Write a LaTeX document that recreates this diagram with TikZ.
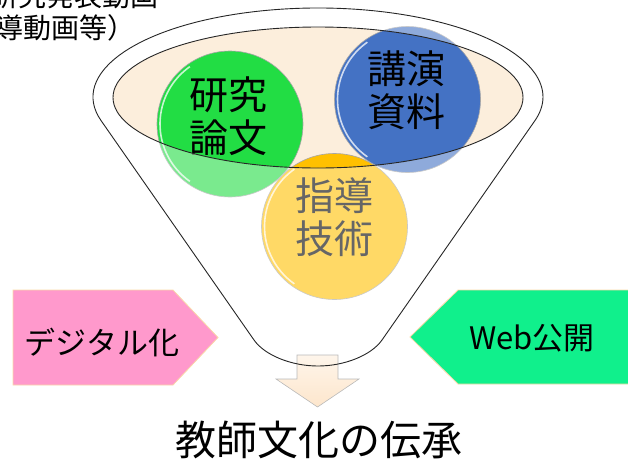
\documentclass[tikz,border=0pt]{standalone}
\usepackage{fontspec}
\setmainfont{Noto Sans CJK JP}
\definecolor{beige}{HTML}{FCEEDC}
\definecolor{cgreen}{HTML}{22DD44}
\definecolor{cblue}{HTML}{4472C4}
\definecolor{cyellow}{HTML}{FFC000}
\definecolor{cpink}{HTML}{FF99CC}
\definecolor{cmint}{HTML}{10F08C}
\definecolor{boxedge}{HTML}{F9D9A8}
\definecolor{arrowfill}{HTML}{FDE6CC}
\newcommand\funnelpath{(318,97) ++(164.5:225 and 89) arc[start angle=164.5, end angle=375.5, x radius=225, y radius=89] -- (382,340) .. controls (371.5,355) and (345,366) .. (318,366) .. controls (291,366) and (264.5,355) .. (254,340) -- cycle}
\tikzset{
  ball/.style={circle, draw=gray!70, line width=0.6pt, minimum size=146pt, inner sep=0pt},
  gloss/.style={white, line width=1.6pt, opacity=0.75},
  ctext/.style={align=center, font=\fontsize{39}{43}\selectfont, inner sep=0pt},
  btext/.style={font=\fontsize{31}{36}\selectfont, inner sep=0pt},
  tagbox/.style={draw=boxedge, line width=0.8pt},
  outline/.style={draw=black!85, line width=0.9pt}
}
\begin{document}
\begin{tikzpicture}[x=1pt,y=-1pt]
\useasboundingbox (0,0) rectangle (628,461);
% inner ellipse fill
\fill[beige] (318,97.5) ellipse [x radius=205, y radius=70.5];
% balls
\node[ball, fill=cgreen] (green) at (230,124) {};
\node[ball, fill=cblue] (blue) at (407.5,99.5) {};
\node[ball, fill=cyellow] (yellow) at (334.5,226.5) {};
\draw[gloss] (green.center) ++(125:70) arc[start angle=125, end angle=235, radius=70];
\draw[gloss] (blue.center) ++(125:70) arc[start angle=125, end angle=235, radius=70];
\draw[gloss] (yellow.center) ++(125:70) arc[start angle=125, end angle=235, radius=70];
\node[ctext] (tg) at (228,116) {研究\\論文};
\node[ctext] (tb) at (406,90) {講演\\資料};
\node[ctext] (ty) at (334,217) {指導\\技術};
% white veil over the funnel body outside the top ellipse
\fill[white, opacity=0.4, even odd rule] \funnelpath (318,97.5) ellipse [x radius=205, y radius=70.5];
% down arrow
\draw[draw=gray!55, line width=0.6pt, top color=arrowfill!40, bottom color=arrowfill]
  (297,355) -- (338,355) -- (338,379) -- (359,379) -- (317.5,407) -- (276,379) -- (297,379) -- cycle;
% outlines
\draw[outline] (318,97.5) ellipse [x radius=205, y radius=70.5];
\draw[outline] \funnelpath;
% side tags
\fill[cpink] (13,290) -- (173,290) -- (218,337.5) -- (173,385) -- (13,385) -- cycle;
\draw[tagbox] (13,290) -- (173,290) -- (218,337.5) -- (173,385) -- (13,385) -- cycle;
\fill[cmint] (640,290) -- (458,290) -- (410,337) -- (458,384) -- (640,384) -- cycle;
\draw[tagbox] (640,290) -- (458,290) -- (410,337) -- (458,384) -- (640,384) -- cycle;
\node[btext] (dig) at (102,342) {デジタル化};
\node[btext] (web) at (532,338) {Web公開};
% bottom caption
\node[font=\fontsize{41}{46}\selectfont, inner sep=0pt] (cap) at (319,440) {教師文化の伝承};
% top-left caption (cut by the page edge)
\node[font=\fontsize{28}{32}\selectfont, inner sep=0pt, anchor=base east] (tl1) at (158.5,6) {研究発表動画};
\node[font=\fontsize{28}{32}\selectfont, inner sep=0pt, anchor=base west] (tl2) at (-5,38) {導動画等）};
\end{tikzpicture}
\end{document}
